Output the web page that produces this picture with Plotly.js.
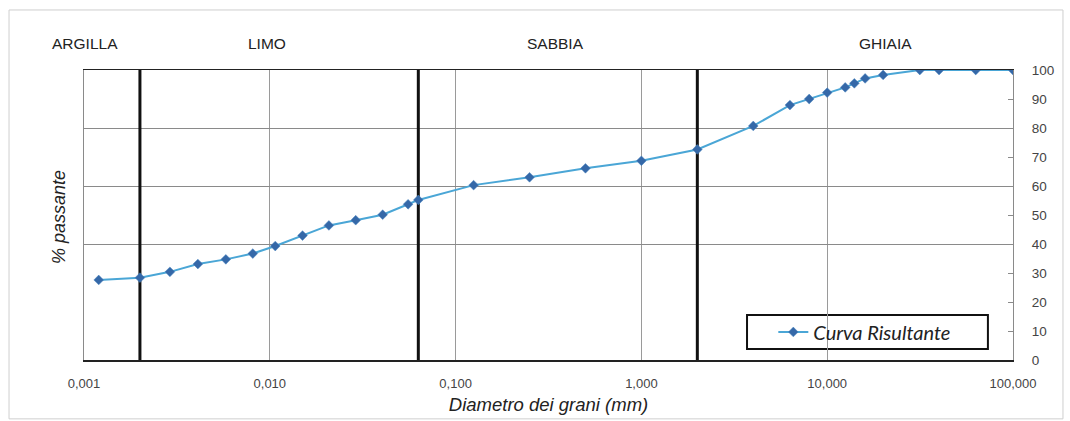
<!DOCTYPE html>
<html>
<head>
<meta charset="utf-8">
<script src="https://cdn.plot.ly/plotly-3.0.1.min.js"></script>
<style>
  html, body { margin: 0; padding: 0; background: #ffffff; }
  #chart { width: 1070px; height: 421px; }
</style>
</head>
<body>
<div id="chart"></div>
<script>
// Grain diameter (mm) and percent passing
const diameters = [0.0012, 0.002, 0.0029, 0.0041, 0.0058, 0.0081, 0.0107, 0.015, 0.0208, 0.029, 0.0405, 0.0555, 0.063,
                   0.125, 0.25, 0.5, 1, 2, 4, 6.3, 8, 10, 12.5, 14, 16, 20, 31.5, 40, 63, 100];
const passing   = [27.6, 28.4, 30.4, 33.1, 34.7, 36.7, 39.3, 42.9, 46.4, 48.2, 50.1, 53.7, 55.2,
                   60.3, 63.0, 66.1, 68.7, 72.6, 80.7, 87.9, 90.0, 92.2, 94.0, 95.4, 97.1, 98.3, 100, 100, 100, 100];
const seriesName = "Curva Risultante";

// Class boundaries (mm)
const boundaries = [0.002, 0.063, 2];
const classNames = ["ARGILLA", "LIMO", "SABBIA", "GHIAIA"];
const classLabelX = [0.00101, 0.00966, 0.343, 20.5];

// Axis ticks
const xTickVals = [0.001, 0.01, 0.1, 1, 10, 100];
const xTickText = ["0,001", "0,010", "0,100", "1,000", "10,000", "100,000"];
const yTickVals = [0, 10, 20, 30, 40, 50, 60, 70, 80, 90, 100];
const gridPercents = [40, 60, 80];

const traces = [];
boundaries.forEach(b => {
  traces.push({
    x: [b, b], y: [0, 100], mode: "lines", type: "scatter",
    line: { color: "#111111", width: 3 }, showlegend: false, hoverinfo: "skip"
  });
});
traces.push({
  x: diameters, y: passing, type: "scatter", mode: "lines+markers", name: seriesName,
  line: { color: "#4aa6d6", width: 2 },
  marker: { symbol: "diamond", size: 7.5, color: "#3568a8", line: { color: "#4a86c0", width: 0.5 } }
});

const annotations = classNames.map((t, i) => ({
  text: t, x: Math.log10(classLabelX[i]), y: 1.09, xref: "x", yref: "paper",
  showarrow: false, xanchor: "center", yanchor: "middle",
  font: { family: "Liberation Sans, Arial, sans-serif", size: 15.5, color: "#222222" }
}));
annotations.push({
  text: "% passante", x: -0.027, y: 0.493, xref: "paper", yref: "paper", textangle: -90,
  showarrow: false, xanchor: "center", yanchor: "middle",
  font: { family: "Liberation Sans, Arial, sans-serif", size: 18, color: "#222222", style: "italic" }
});

const layout = {
  width: 1070, height: 421,
  margin: { l: 84, r: 57, t: 70, b: 61 },
  paper_bgcolor: "#ffffff", plot_bgcolor: "#ffffff",
  font: { family: "Liberation Sans, Arial, sans-serif", color: "#444444" },
  xaxis: {
    type: "log", range: [-3, 2],
    tickvals: xTickVals, ticktext: xTickText,
    showgrid: true, gridcolor: "#9a9a9a", gridwidth: 1,
    showline: true, linecolor: "#222222", linewidth: 1.5, mirror: true,
    ticks: "", ticklabelstandoff: 11,
    tickfont: { size: 13, color: "#444444" },
    zeroline: false,
    title: { text: "Diametro dei grani (mm)", standoff: 8,
             font: { size: 18.5, color: "#222222", style: "italic" } }
  },
  yaxis: {
    range: [0, 100], side: "right",
    tickvals: yTickVals, showgrid: false,
    showline: true, linecolor: "#8a8a8a", linewidth: 1, mirror: true,
    ticks: "inside", ticklen: 5, tickcolor: "#8a8a8a",
    ticklabelstandoff: 15,
    tickfont: { size: 13.5, color: "#444444" },
    zeroline: false
  },
  yaxis2: {
    range: [0, 100], overlaying: "y", side: "left",
    tickvals: gridPercents, showticklabels: false, ticks: "",
    showgrid: true, gridcolor: "#8a8a8a", gridwidth: 1, showline: false, zeroline: false
  },
  showlegend: true,
  legend: {
    x: 0.742, y: 0.0966, xanchor: "left", yanchor: "middle",
    bgcolor: "rgba(0,0,0,0)", borderwidth: 0,
    font: { family: "Lato, Open Sans, sans-serif", size: 20, color: "#222222", style: "italic" },
    itemwidth: 30
  },
  shapes: [
    { type: "rect", xref: "paper", yref: "paper", x0: 0.7137, x1: 0.973, y0: 0.038, y1: 0.155,
      line: { color: "#111111", width: 2 }, fillcolor: "rgba(255,255,255,1)", layer: "below" },
    { type: "rect", xref: "paper", yref: "paper", x0: -0.0807, x1: 1.0538, y0: -0.203, y1: 1.207,
      line: { color: "#cfcfcf", width: 1 }, fillcolor: "rgba(0,0,0,0)" }
  ],
  annotations: annotations
};

// invisible trace so that yaxis2 (grid at 40/60/80) is drawn
traces.push({ x: [0.001], y: [0], yaxis: "y2", mode: "markers", marker: { opacity: 0 },
              showlegend: false, hoverinfo: "skip" });

Plotly.newPlot("chart", traces, layout, { staticPlot: true, displayModeBar: false });
</script>
</body>
</html>
